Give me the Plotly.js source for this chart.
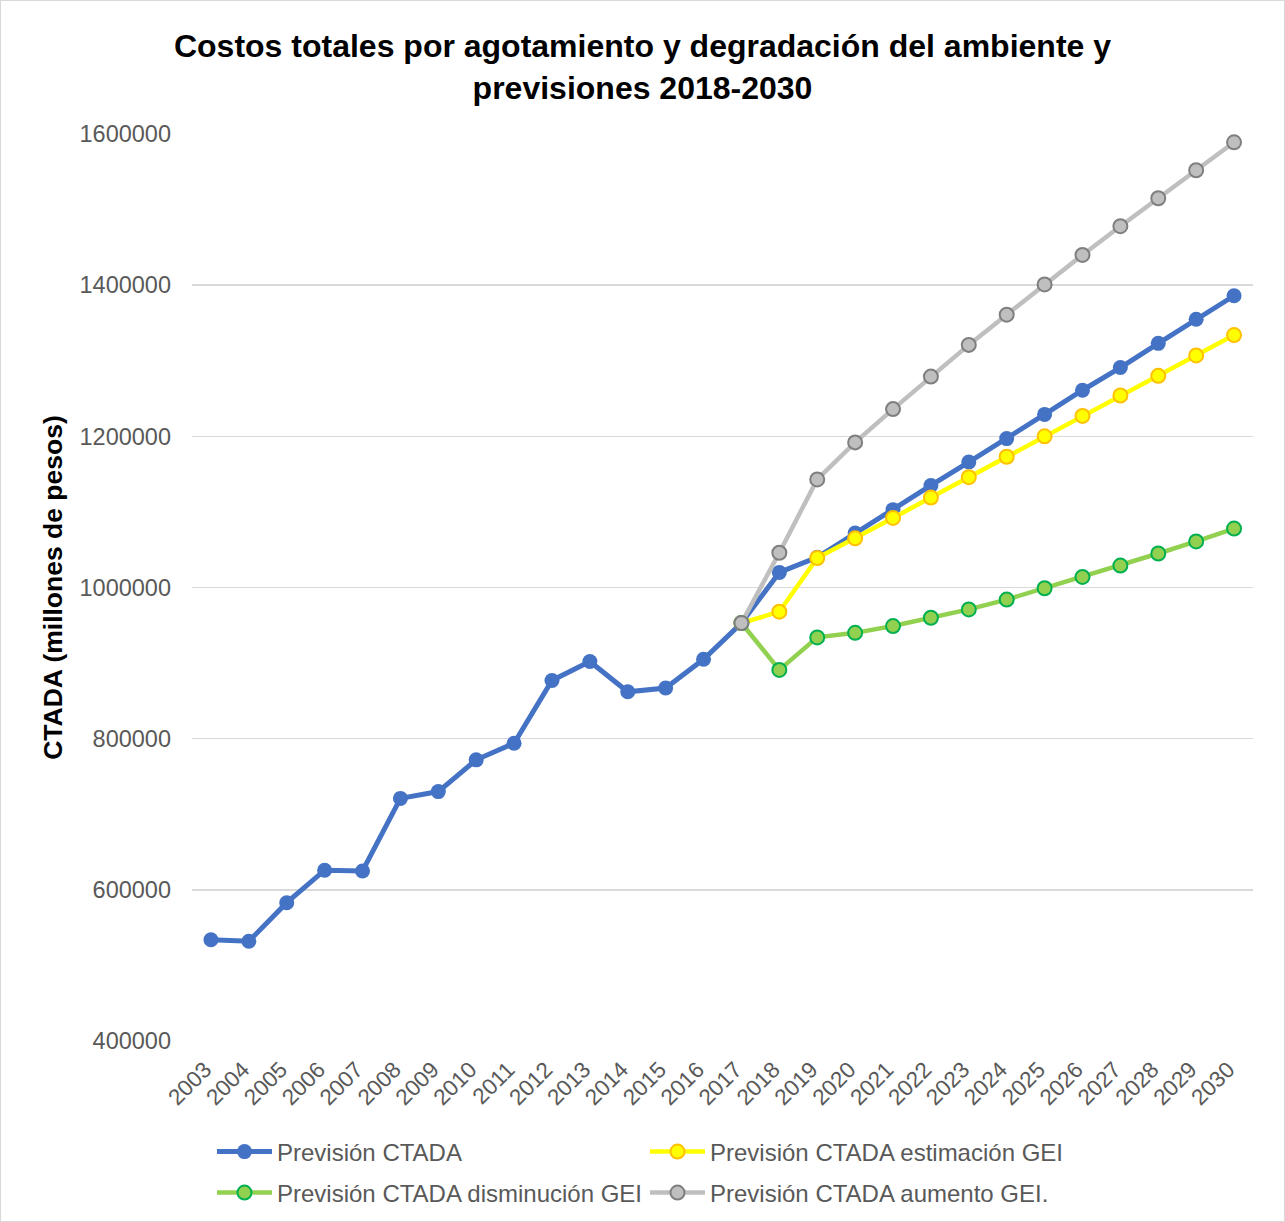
<!DOCTYPE html>
<html>
<head>
<meta charset="utf-8">
<script src="https://cdn.plot.ly/plotly-3.0.1.min.js"></script>
<style>
  html, body { margin: 0; padding: 0; background: #fff; }
  #wrap { position: relative; width: 1285px; height: 1222px; }
  #chart { width: 1285px; height: 1222px; }
  #frame { position: absolute; left: 0; top: 0; width: 1285px; height: 1222px; box-sizing: border-box; border: 1px solid #d9d9d9; pointer-events: none; }
</style>
</head>
<body>
<div id="wrap"><div id="chart"></div><div id="frame"></div></div>
<script>
const years = ['2003','2004','2005','2006','2007','2008','2009','2010','2011','2012','2013','2014','2015','2016','2017','2018','2019','2020','2021','2022','2023','2024','2025','2026','2027','2028','2029','2030'];
const forecastYears = ['2017','2018','2019','2020','2021','2022','2023','2024','2025','2026','2027','2028','2029','2030'];

const prevision = [534000, 532000, 583000, 626000, 625000, 721000, 730000, 772000, 794000, 877000, 902000, 862000, 867000, 905000, 953000, 1020000, 1040000, 1072000, 1103000, 1135000, 1166000, 1197000, 1229000, 1261000, 1291000, 1323000, 1355000, 1386000];
const estimacionGEI = [953000, 968000, 1039000, 1065000, 1092000, 1119000, 1146000, 1173000, 1200000, 1227000, 1254000, 1280000, 1307000, 1334000];
const disminucionGEI = [953000, 891000, 934000, 940000, 949000, 960000, 971000, 984000, 999000, 1014000, 1029000, 1045000, 1061000, 1078000];
const aumentoGEI = [953000, 1046000, 1143000, 1192000, 1236000, 1279000, 1321000, 1361000, 1401000, 1440000, 1478000, 1515000, 1552000, 1589000];

const seriesNames = ['Previsión CTADA', 'Previsión CTADA estimación GEI', 'Previsión CTADA disminución GEI', 'Previsión CTADA aumento GEI.'];
const tickVals = [400000, 600000, 800000, 1000000, 1200000, 1400000, 1600000];

const FONT = 'Liberation Sans, Arial, sans-serif';

const traces = [
  { x: years, y: prevision, name: seriesNames[0], type: 'scatter', mode: 'lines+markers',
    line: { color: '#4472C4', width: 5 },
    marker: { color: '#4472C4', size: 15, line: { color: '#4472C4', width: 0 } },
    legend: 'legend' },
  { x: forecastYears, y: estimacionGEI, name: seriesNames[1], type: 'scatter', mode: 'lines+markers',
    line: { color: '#FFFF00', width: 4.5 },
    marker: { color: '#FFFF00', size: 14, line: { color: '#FFC000', width: 2 } },
    legend: 'legend' },
  { x: forecastYears, y: disminucionGEI, name: seriesNames[2], type: 'scatter', mode: 'lines+markers',
    line: { color: '#92D050', width: 4.5 },
    marker: { color: '#92D050', size: 14, line: { color: '#00B050', width: 2 } },
    legend: 'legend2' },
  { x: forecastYears, y: aumentoGEI, name: seriesNames[3], type: 'scatter', mode: 'lines+markers',
    line: { color: '#BFBFBF', width: 4.5 },
    marker: { color: '#BFBFBF', size: 14, line: { color: '#7F7F7F', width: 2 } },
    legend: 'legend2' }
];

const legendCommon = {
  orientation: 'h', xref: 'container', yref: 'container', xanchor: 'left', yanchor: 'middle',
  font: { family: FONT, size: 24, color: '#595959' }, itemwidth: 55, entrywidth: 363,
  bgcolor: 'rgba(0,0,0,0)', traceorder: 'normal', itemclick: false
};

const layout = {
  width: 1285, height: 1222,
  margin: { l: 192, r: 32, t: 134, b: 181 },
  paper_bgcolor: '#ffffff', plot_bgcolor: '#ffffff',
  title: { text: 'Costos totales por agotamiento y degradación del ambiente y<br>previsiones 2018-2030',
    font: { family: FONT, size: 32, color: '#000000', weight: 'bold' },
    x: 0.5, xanchor: 'center', xref: 'container', y: 1 - 57/1222, yanchor: 'middle', yref: 'container' },
  xaxis: {
    type: 'category', categoryorder: 'array', categoryarray: years,
    range: [-0.5, 27.5], showgrid: false, zeroline: false,
    showline: false, ticks: '', tickangle: -45,
    ticklabelstandoff: 10, ticklabelshift: -6,
    tickfont: { family: FONT, size: 22.5, color: '#595959' }, fixedrange: true
  },
  yaxis: {
    range: [400000, 1600000], tickvals: tickVals, ticktext: tickVals.map(String),
    showgrid: true, gridcolor: '#d9d9d9', gridwidth: 1.5, zeroline: false, showline: false, ticks: '',
    ticklabelstandoff: 20,
    tickfont: { family: FONT, size: 23.5, color: '#595959' },
    title: { text: '<b>CTADA (millones de pesos)</b>', font: { family: FONT, size: 26.5, color: '#000000' }, standoff: 9 },
    fixedrange: true
  },
  showlegend: true,
  legend: Object.assign({}, legendCommon, { x: 212/1285, y: 1 - 1152/1222 }),
  legend2: Object.assign({}, legendCommon, { x: 212/1285, y: 1 - 1193/1222 })
};

Plotly.newPlot('chart', traces, layout, { displayModeBar: false, staticPlot: true });
</script>
</body>
</html>
